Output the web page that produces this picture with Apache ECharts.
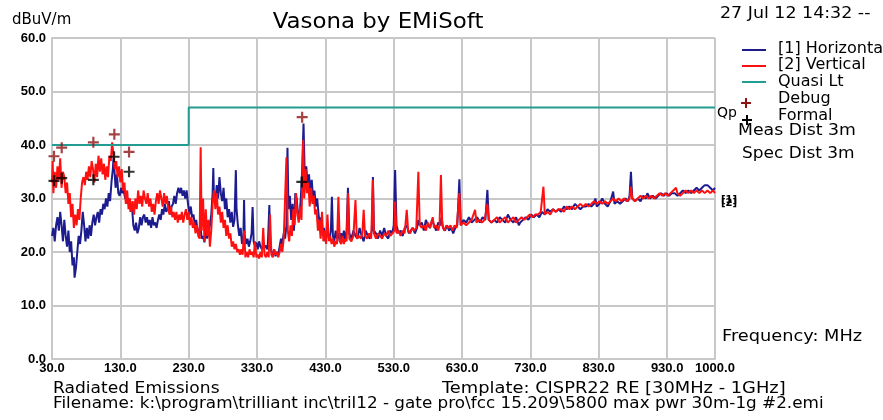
<!DOCTYPE html>
<html><head><meta charset="utf-8">
<script src="https://cdn.jsdelivr.net/npm/echarts@6/dist/echarts.min.js"></script>
<style>html,body{margin:0;padding:0;background:#fff}#c{width:883px;height:420px}</style>
</head><body><div id="c"></div>
<script>
// ---------- data ----------
const hFreq = [30,32,34,36,38,40,42,44,46,48,50,52,54,56,58,60,62,63,65,67,69,71,73,75,77,79,81,83,85,87,89,91,93,95,97,99,101,103,105,107,109,111,113,115,117,119,120,121,123,125,127,129,131,133,135,137,139,141,143,145,147,149,151,153,155,157,159,161,163,165,167,169,171,173,175,177,179,181,183,185,187,189,191,193,195,197,199,201,203,205,207,209,211,213,215,217,219,221,223,225,227,229,231,233,235,237,239,241,243,245,247,249,251,253,255,257,259,261,263,265,266,267,269,271,273,275,277,279,281,283,285,287,289,291,293,295,297,299,300,302,304,306,308,310,311,312,314,316,318,320,322,323.5,325,327,329,331,333,335,337,339,341,343,345,346,348,349.5,351,353,355,357,359,361,363,365,367,369,371,373,374.5,376,378,380,382,384,386,388,390,392,394,396,398,400,402,404,406,408,410,412,414,416,418,420,422,424,426,428,430,432,434,436,438,439.5,441,443,445,447,449,451,453,455,457,459,461,463,465,468,471,474,477,480,483,486,489,492,495,498,499.5,501,504,507,510,513,516,519,522,525,528,530,532,534,537,540,543,546,549,552,555,558,561,564,566,568,571,574,577,580,583,586,589,592,595,598,600,602,605,608,611,614,617,620,623,626,628,632,636,640,644,648,652,656,660,664,667,669,673,677,681,685,689,693,697,701,705,709,713,715,719,723,727,731,735,739,743,747,751,755,759,763,767,771,775,779,783,787,791,795,799,803,807,811,815,819,823,825,827,831,835,839,843,847,851,853,857,861,865,869,873,875,877,879,883,887,891,895,899,901,905,909,913,917,921,925,929,933,937,941,945,949,953,957,961,965,969,973,977,981,985,989,993,997,1000];
const hLevel = [23,24.5,22,25,26.5,24,27.5,25,22,26,23,21,24,20,22,17.5,19,15.2,17,20,23,21.5,24,27.5,25,22,24.5,22.5,25,23,25.5,27,25,26.5,27.5,25.5,28,27,29,28,30,28.5,31,29.5,33,35.5,37.5,36,32,34.5,31,30.5,32,31,31.5,30,31,29,30,27.5,28.5,25,24,25.5,23.5,24.5,26.5,25,26.5,27,25.5,26.5,25,26,24.5,26.5,25,25.5,24.5,26,27,26,28,27,29,27.5,28,29.5,27,28.5,29,30.5,29,31,32,31,32,30.5,31.5,30,31.5,29,27,28.5,26.5,27,25,26,24,23.5,25,22.5,23,21.8,24,22.5,23.5,25,27,31,35.7,30,29,32.5,30,34,31,29.5,32,28,30,26.5,28,25.5,27.5,24.7,26,35.3,28,25,23,24.5,21.5,22.5,29.7,23,21.5,22.5,21,22,23.5,28.4,22,21,21.8,20.5,22,21,20.5,21.5,20.8,21.2,20.5,22,28.8,21,20,19.5,20.5,19.2,20,19.5,21,22.5,21.5,23.5,22.5,25,39.5,28,30.5,26,29,24,31,30,27,26.5,30,35.3,44,33,36,32.5,34.5,31,33.5,30,31.5,28.5,30,27,25,26.5,23,24.5,22,24,23,22.5,24,30.3,23,22,24,22.5,23.5,22,23.5,22.5,24,22,24,32,23.5,22.5,24,23,22.5,24.5,23,22,24,23,22.5,24,34,24,23.5,22.5,24,23,24.5,23,22.5,24,23.5,25,35.3,25,23.5,24,23,24.5,25,23.5,24,24.5,23.5,24.5,26,25,25.5,24,26,25,24.5,26,25,24,25.5,25,26.5,24.5,24,25,24,24.5,23.5,24.5,25,33.6,25,26,25.5,26.5,25.5,26,26.5,25.5,26.5,26,31.6,26,25.5,26,25.5,26.5,26,25.5,27,26,25.5,26.5,25,25.5,26,26.5,26,27,26.5,27,26.5,27.5,27,28,27.5,28,27.5,28,27.5,28.5,28,28.5,28,29,28.5,28,28.5,28.5,29,28.5,29,30,28.5,29,30,29,28.5,29.5,31.3,29,29.5,29,29.5,30,29.5,30.5,35,30,29.5,30,29.5,30.5,30,31,30,30.5,30,30.5,31,30.5,31,30.5,31,31,30.5,31,31.5,31,31.5,31,31.5,32,31.5,32,32.5,32.5,32,31.5,32];

const vFreq = [30,31,32,34,36,38,40,42,44,46,48,50,52,54,56,58,60,62,64,66,68,70,72,74,76,78,80,82,84,86,88,90,92,94,96,98,100,102,104,106,108,110,112,114,116,118,120,122,124,126,128,130,132,134,136,138,140,142,144,146,148,150,152,154,156,158,160,162,164,166,168,170,172,174,176,178,180,182,184,186,188,190,192,194,196,198,200,202,204,206,208,210,212,214,216,218,220,222,224,226,228,230,232,234,236,238,240,242,244,246,247.5,249,251,253,255,257,259,261,263,265,267,269,271,273,275,277,279,281,283,285,287,289,291,293,295,297,299,301,303,305,307,309,311,313,315,317,319,321,323,325,327,329,331,333,335,337,339,341,343,345,347,349,351,353,355,357,359,361,363,365,367,369,371,373,375,377,379,381,383,385,387,389,391,393,395,397.5,399,401,403,405,407,409,411,413,415,417,419,421,423,425,427,429,431,433,435,437,439,441,443,445,447,449,451,453,455,457,459,461,463,465,468,471,474,476,479,482,484,486,488,491,494,497,499.5,501,504,507,510,513,516,519,522,525,528,531,532,534,537,540,543,546,549,551,554,557,560,563,566,568,571,574,577,580,583,587,589,592,595,597,599,601,604,607,610,613,616,619,622,626,628,632,636,640,644,649,651,655,659,663,667,669,673,677,681,685,689,693,697,701,705,709,713,717,721,725,729,733,737,741,745,749,751,755,759,763,767,771,775,779,783,787,791,795,799,803,807,811,815,819,823,827,831,835,839,843,847,851,855,859,863,867,871,875,877,879,883,887,891,895,899,903,907,911,915,919,923,927,931,935,939,943,945,949,953,957,961,965,969,973,977,981,985,989,993,997,1000];
const vLevel = [33,37,31,35,32,36,33.5,37.5,32,35,34,31,33,29,31,26.5,29,24.5,27,25,28,26,30,33,34,32.5,35,33.5,36,34,37,35.5,33,36.5,34,38,35,37.5,34.5,36.5,33.5,36,34,38,37,40.5,38,35.5,37,34,36,33,35.5,31.5,33,29,31.5,28,30,27.5,29.5,27,30,28,31.5,29,30.5,28.5,31.5,30,29,31,28.5,30,27.5,29,27,29.5,31,29,31.5,30,28.5,31,29,30.5,28,27,28.5,26.5,27.5,26,27.5,25.5,27,26,27.5,25.5,27,28,26,27.5,25,26.5,24.5,25.5,23.5,25,23,22.5,39.6,24,30,22,28,23,26,21,24,29,31.5,28,31,27,28.5,25.5,27.5,24.5,26,23,25,22.5,23.5,21,22,20.5,21.5,20,20.5,19.5,20.5,19.5,24,19,20,19,20.5,19.5,20,19,22,19,19.5,18.8,20,19,24.5,19.5,19,20,19,27,19.5,19,20.5,19.5,20,19,20,21.5,20,22.5,30,37.7,24,22,25,23,28,25,31,27,25.5,28.5,26,41,30,35.5,31,33,28.5,32,29,30.5,27,28,24,26,22.5,27.5,22,24,21.5,27,22,23,21.5,22.5,21,22,21.5,30.3,22,21.5,23,21.5,22.5,22,31,22.5,22,23,29.7,22.5,23,22.5,23.5,27.9,23,22.5,23.5,22.5,33.5,23.5,22.5,23.5,23,22.5,23.5,23,24,23,23.5,24,29.5,23.5,24,23,24,23.5,27.9,24,23.5,24.5,24,24.5,35,25,24.5,25,24,25.5,24.5,26.5,24.5,25,24,25,34.4,25,24,25,24.5,25,24,25,24.5,31,25,25.5,25,25.5,26,27.9,25.5,26,25.5,26,29,26,25.5,26,26.5,25.5,26,26.5,25.5,26,26.5,25.5,26,26.5,26,26.5,27,26.5,27,27,27.5,32.2,27,27.5,27,28,27.5,28,28,27.5,28.5,28,28.5,28,28.5,29,28.5,29,28.5,29,29.5,29,29.5,29,29.5,29,29.5,30,29.5,30,29.5,30,29.5,30,32.2,30,29.5,30,30.5,30,30.5,30,30.5,30,30.5,31,30.5,31,30.5,31,31.5,32,31,30.5,31,31.5,31,31.5,31,31.5,31,31.5,31,31.5,31,31.5,31,30.5,31];

const limitFreq = [30,230,230,1000];
const limitLevel = [40,40,47,47];

const debugFreq = [32.9,44.2,90.5,121.2,142.7,396];
const debugLevel = [37.9,39.5,40.5,42,38.7,45.2];
const formalFreq = [32.9,44.2,90.5,120.8,142.7,395.5];
const formalLevel = [33.3,33.8,33.5,37.8,35,33.1];

const yTicks = [0,10,20,30,40,50,60];
const xTickStart = 30, xTickStep = 100, xEnd = 1000;

// ---------- chart ----------
const zip = (a,b) => a.map((v,i)=>[v,b[i]]);
const FONT = 'DejaVu Sans';
const plusPath = 'path://M4,0H6V4H10V6H6V10H4V6H0V4H4Z';
const chart = echarts.init(document.getElementById('c'), null, {renderer:'canvas'});
const gridC = '#c8c8c8';
const txt = (x,y,s,size,weight,sx) => ({type:'text', x:x, y:y, scaleX:sx||1, style:{text:s, font:`${weight||''} ${size}px "${FONT}"`, fill:'#000'}});
const seg = (x1,y1,x2,y2,c) => ({type:'line', shape:{x1,y1,x2,y2}, style:{stroke:c, lineWidth:2}});
chart.setOption({
  animation:false,
  backgroundColor:'#fff',
  grid:{left:52, right:168, top:38, bottom:61},
  xAxis:{type:'value', min:xTickStart, max:xEnd, interval:xTickStep,
    axisLine:{show:true, lineStyle:{color:gridC, width:2}}, axisTick:{show:false},
    splitLine:{show:true, lineStyle:{color:gridC, width:2}},
    axisLabel:{margin:3, color:'#000', fontFamily:'Liberation Sans', fontWeight:'bold', fontSize:13, formatter:v=>v.toFixed(1), showMinLabel:true, showMaxLabel:true, hideOverlap:false}},
  yAxis:{type:'value', min:yTicks[0], max:yTicks[yTicks.length-1], interval:10,
    axisLine:{show:true, lineStyle:{color:gridC, width:2}}, axisTick:{show:false},
    splitLine:{show:true, lineStyle:{color:gridC, width:2}},
    axisLabel:{margin:6, color:'#000', fontFamily:'Liberation Sans', fontWeight:'bold', fontSize:13, formatter:v=>v.toFixed(1), padding:[0,0,5,0]}},
  series:[
    {name:'[1] Horizontal', type:'line', data:zip(hFreq,hLevel), showSymbol:false, lineStyle:{color:'#1c1c8e', width:2}, z:2},
    {name:'[2] Vertical', type:'line', data:zip(vFreq,vLevel), showSymbol:false, lineStyle:{color:'#ff1010', width:2}, z:3},
    {name:'Quasi Lt', type:'line', data:zip(limitFreq,limitLevel), showSymbol:false, lineStyle:{color:'#239c92', width:2}, z:4},
    {name:'Debug', type:'scatter', data:zip(debugFreq,debugLevel), symbol:plusPath, symbolSize:11, itemStyle:{color:'#8e1414'}, z:5},
    {name:'Formal', type:'scatter', data:zip(formalFreq,formalLevel), symbol:plusPath, symbolSize:11, itemStyle:{color:'#000'}, z:5}
  ],
  graphic:[
    txt(12,13,'dBuV/m',15),
    {type:'text', x:378, y:12, scaleX:1.09, style:{text:'Vasona by EMiSoft', font:`21px "${FONT}"`, fill:'#000', align:'center'}},
    txt(720,6,'27 Jul 12 14:32 --',16,'',1.09),
    seg(742,50,766,50,'#1c1c8e'),
    seg(742,66,766,66,'#ff1010'),
    seg(742,82,766,82,'#239c92'),
    seg(746,98,746,108,'#8e1414'), seg(741,103,751,103,'#8e1414'),
    seg(747,115,747,125,'#000'), seg(742,120,752,120,'#000'),
    txt(778,41,'[1] Horizontal',16),
    txt(778,57,'[2] Vertical',16),
    txt(778,74,'Quasi Lt',16),
    txt(778,91,'Debug',16),
    txt(778,108,'Formal',16),
    txt(717,106,'Qp',14),
    txt(738,123,'Meas Dist 3m',16,'',1.08),
    txt(742,146,'Spec Dist 3m',16,'',1.06),
    txt(721,195,'[1]',10,'bold'),
    txt(721,198,'[2]',10,'bold'),
    txt(722,329,'Frequency: MHz',16,'',1.11),
    txt(53,382,'Radiated Emissions',15,'',1.14),
    txt(442,382,'Template: CISPR22 RE [30MHz - 1GHz]',15,'',1.19),
    txt(53,397,'Filename: k:\\program\\trilliant inc\\tril12 - gate pro\\fcc 15.209\\5800 max pwr 30m-1g #2.emi',15,'',1.12)
  ]
});
</script></body></html>
